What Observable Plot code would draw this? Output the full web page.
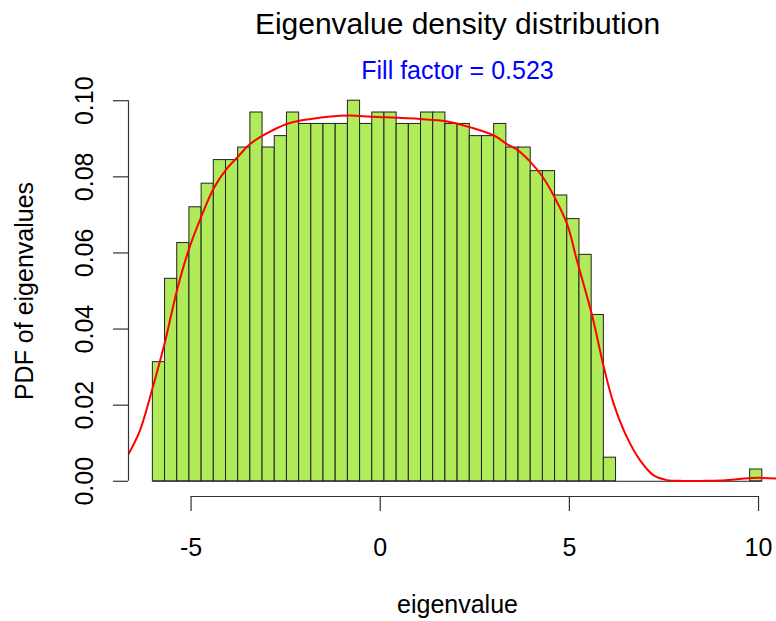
<!DOCTYPE html>
<html>
<head>
<meta charset="utf-8">
<script src="https://cdn.jsdelivr.net/npm/d3@7"></script>
<script src="https://cdn.jsdelivr.net/npm/@observablehq/plot@0.6"></script>
<style>
  html, body { margin: 0; padding: 0; background: #fff; }
  #chart svg { display: block; }
</style>
</head>
<body>
<div id="chart"></div>
<script>
// Histogram breaks (equal width, as R's hist with explicit breaks)
const breakStart = -6.01;
const breakEnd = 10.1;
const binCount = 50;

// Density of each bin
const binDensity = [
  0.0313, 0.0532, 0.0626, 0.0720, 0.0782, 0.0844, 0.0844, 0.0877, 0.0969, 0.0877,
  0.0907, 0.0969, 0.0939, 0.0939, 0.0939, 0.0939, 0.1000, 0.0939, 0.0969, 0.0969,
  0.0939, 0.0939, 0.0969, 0.0969, 0.0939, 0.0939, 0.0907, 0.0907, 0.0939, 0.0877,
  0.0877, 0.0815, 0.0815, 0.0751, 0.0689, 0.0595, 0.0437, 0.0062, 0, 0,
  0, 0, 0, 0, 0, 0, 0, 0, 0, 0.0031
];

// Smoothed density curve (red)
const curveX = [-6.65, -6.35, -6.01, -5.83, -5.68, -5.38, -5.07, -4.72, -4.39, -4.06,
  -3.76, -3.44, -3.11, -2.47, -1.83, -0.85, -0.22, 1.06, 1.74, 2.38,
  3.02, 3.35, 3.65, 3.98, 4.30, 4.61, 4.94, 5.20, 5.60, 5.91,
  6.17, 6.52, 6.87, 7.22, 7.58, 8.0, 8.5, 9.0, 9.5, 9.97, 10.48];
const curveY = [0.0072, 0.0134, 0.0248, 0.0313, 0.0370, 0.0499, 0.0606, 0.0698, 0.0772, 0.0821,
  0.0853, 0.0886, 0.0908, 0.0939, 0.0952, 0.0961, 0.0958, 0.0952, 0.0946, 0.0930,
  0.0908, 0.0886, 0.0869, 0.0838, 0.0799, 0.0746, 0.0676, 0.0580, 0.0436, 0.0300,
  0.0204, 0.0116, 0.0055, 0.0016, 0.0003, 0.0001, 0.0001, 0.0002, 0.0006, 0.0009, 0.0007];

const xTicks = [-5, 0, 5, 10];
const yTicks = [0, 0.02, 0.04, 0.06, 0.08, 0.10];

const titleText = "Eigenvalue density distribution";
const subtitleText = "Fill factor = 0.523";
const xLabel = "eigenvalue";
const yLabel = "PDF of eigenvalues";

const binWidth = (breakEnd - breakStart) / binCount;
const bins = binDensity.map((d, i) => ({
  x1: breakStart + i * binWidth,
  x2: breakStart + (i + 1) * binWidth,
  density: d
}));
const curve = curveX.map((x, i) => ({x, y: curveY[i]}));

const xDomain = [-6.654, 10.475];
const yDomain = [-0.004, 0.104];
const font = "'Liberation Sans', Arial, Helvetica, sans-serif";
const axisColor = "#333";

const chart = Plot.plot({
  width: 776,
  height: 621,
  marginLeft: 128,
  marginRight: 0,
  marginTop: 85,
  marginBottom: 125,
  x: {domain: xDomain},
  y: {domain: yDomain},
  style: {fontFamily: font, fontSize: "25px", color: "#000", background: "#fff", overflow: "visible"},
  marks: [
    // baseline under the (possibly empty) bins
    Plot.ruleY([0], {x1: breakStart, x2: breakEnd, stroke: "#222", strokeWidth: 1}),
    Plot.rect(bins, {x1: "x1", x2: "x2", y1: 0, y2: "density", fill: "#b0ec5a", stroke: "#222", strokeWidth: 1}),
    Plot.line(curve, {x: "x", y: "y", stroke: "#ff0000", strokeWidth: 2, curve: "catmull-rom", clip: true}),
    // axes, R style
    Plot.ruleX([xDomain[0]], {y1: yTicks[0], y2: yTicks[yTicks.length - 1], stroke: axisColor, strokeWidth: 1.2}),
    Plot.ruleY([yDomain[0]], {x1: xTicks[0], x2: xTicks[xTicks.length - 1], stroke: axisColor, strokeWidth: 1.2}),
    Plot.axisY({ticks: yTicks, tickSize: 15, tickPadding: 21, tickRotate: -90,
      tickFormat: d3.format(".2f"), label: null, stroke: axisColor, strokeWidth: 1.2, fontSize: 25, fill: "#000"}),
    Plot.axisX({ticks: xTicks, tickSize: 15, tickPadding: 27,
      tickFormat: d => String(d), label: null, stroke: axisColor, strokeWidth: 1.2, fontSize: 25, fill: "#000"}),
    // titles
    Plot.text([titleText], {frameAnchor: "top", dx: 5, dy: -52, lineAnchor: "bottom", fontSize: 30, fill: "#000"}),
    Plot.text([subtitleText], {frameAnchor: "top", dx: 5, dy: -7, lineAnchor: "bottom", fontSize: 25, fill: "#0000ff"}),
    Plot.text([xLabel], {frameAnchor: "bottom", dx: 5, dy: 116, lineAnchor: "bottom", fontSize: 25, fill: "#000"}),
    Plot.text([yLabel], {frameAnchor: "left", dx: -96, rotate: -90, textAnchor: "middle", lineAnchor: "bottom", fontSize: 25, fill: "#000"})
  ]
});
document.getElementById("chart").appendChild(chart);
</script>
</body>
</html>
